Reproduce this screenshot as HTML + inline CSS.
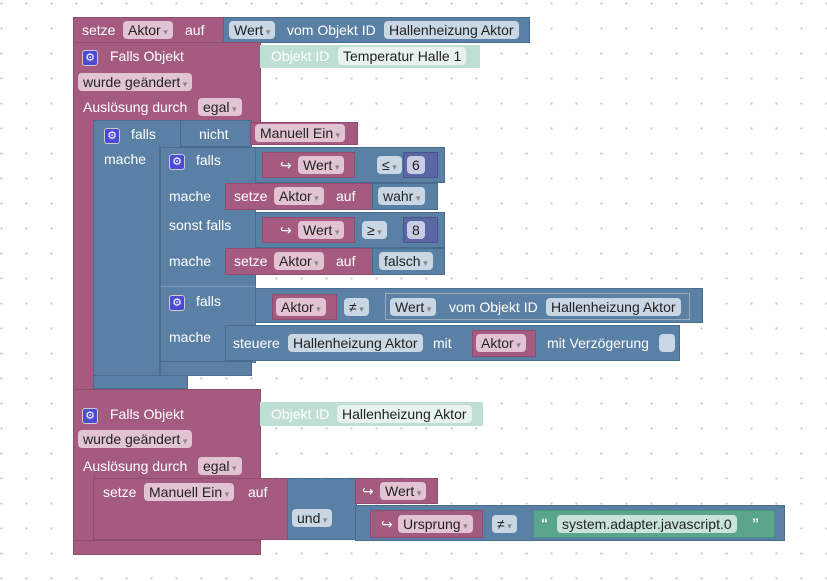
<!DOCTYPE html>
<html><head><meta charset="utf-8"><style>
body{margin:0;width:827px;height:581px;overflow:hidden;background:#fff;
background-image:radial-gradient(circle,#c8c8c8 1px,transparent 1.3px);background-size:25px 25px;background-position:-11px -9px;
font-family:"Liberation Sans",sans-serif;font-size:14px;color:#fff}
div{position:absolute;box-sizing:border-box}
.p{background:#a55b80;border:1px solid #8e4d6e}
.b{background:#5b80a5;border:1px solid #4a6d8f}
.t{background:#bfdfd3}
.g{background:#5ba58c;border:1px solid #4a8f77}
.n{background:#5b67a5;border:1px solid #4a558f}
.l{position:absolute;white-space:nowrap;line-height:18px}
.f{position:absolute;white-space:nowrap;line-height:18px;height:18px;padding:0 5px;border-radius:4px;color:#222}
.fp{background:#e2c3d3}
.fb{background:#c9d6e3}
.ft{background:#e8f3ee}
.fg{background:#c9e3d8}
.dd::after{content:" ▾";font-size:9px;color:#888}
.gear{position:absolute;width:16px;height:16px;background:#4a4ad6;border-radius:3px;border:1px solid #ccc;color:#fff;font-size:11px;line-height:14px;text-align:center}
</style></head><body>

<div class="p" style="left:73px;top:17px;width:152px;height:26px"></div>
<span class="l" style="left:82px;top:21px">setze</span>
<span class="f fp dd" style="left:123px;top:21px">Aktor</span>
<span class="l" style="left:185px;top:21px">auf</span>
<div class="b" style="left:223px;top:17px;width:307px;height:26px"></div>
<span class="f fb dd" style="left:229px;top:21px">Wert</span>
<span class="l" style="left:287px;top:21px">vom Objekt ID</span>
<span class="f fb" style="left:384px;top:21px">Hallenheizung Aktor</span>

<div class="p" style="left:73px;top:42px;width:188px;height:80px;border-bottom:none"></div>
<div class="p" style="left:73px;top:120px;width:22px;height:272px;border-top:none;border-bottom:none"></div>
<div class="p" style="left:73px;top:389px;width:188px;height:14px"></div>
<div class="gear" style="left:82px;top:50px">⚙</div>
<span class="l" style="left:110px;top:47px">Falls Objekt</span>
<span class="f fp dd" style="left:78px;top:73px">wurde geändert</span>
<span class="l" style="left:83px;top:98px">Auslösung durch</span>
<span class="f fp dd" style="left:198px;top:98px">egal</span>
<div class="t" style="left:260px;top:45px;width:220px;height:23px"></div>
<span class="l" style="left:271px;top:47px;color:#fff">Objekt ID</span>
<span class="f ft" style="left:338px;top:47px">Temperatur Halle 1</span>

<div class="b" style="left:93px;top:120px;width:90px;height:27px;border-bottom:none"></div>
<div class="b" style="left:180px;top:120px;width:72px;height:27px"></div>
<div class="p" style="left:250px;top:122px;width:108px;height:23px"></div>
<div class="b" style="left:93px;top:145px;width:67px;height:232px;border-top:none;border-bottom:none"></div>
<div class="b" style="left:93px;top:375px;width:95px;height:14px"></div>
<div class="gear" style="left:104px;top:128px">⚙</div>
<span class="l" style="left:131px;top:125px">falls</span>
<span class="l" style="left:199px;top:125px">nicht</span>
<span class="f fp dd" style="left:255px;top:124px">Manuell Ein</span>
<span class="l" style="left:104px;top:150px">mache</span>

<div class="b" style="left:160px;top:147px;width:96px;height:216px;border-bottom:none"></div>
<div class="b" style="left:160px;top:361px;width:92px;height:15px"></div>
<div class="gear" style="left:169px;top:154px">⚙</div>
<span class="l" style="left:196px;top:151px">falls</span>
<div class="b" style="left:255px;top:147px;width:190px;height:36px"></div>
<div class="p" style="left:262px;top:152px;width:93px;height:26px"></div>
<span class="l" style="left:280px;top:156px">↪</span>
<span class="f fp dd" style="left:298px;top:156px">Wert</span>
<span class="f fb dd" style="left:377px;top:156px">≤</span>
<div class="n" style="left:403px;top:152px;width:35px;height:26px"></div>
<span class="f" style="left:407px;top:156px;background:#c9cde3">6</span>
<span class="l" style="left:169px;top:187px">mache</span>
<div class="p" style="left:225px;top:183px;width:148px;height:27px"></div>
<span class="l" style="left:234px;top:187px">setze</span>
<span class="f fp dd" style="left:274px;top:187px">Aktor</span>
<span class="l" style="left:336px;top:187px">auf</span>
<div class="b" style="left:372px;top:183px;width:66px;height:27px"></div>
<span class="f fb dd" style="left:378px;top:187px">wahr</span>
<span class="l" style="left:169px;top:216px">sonst falls</span>
<div class="b" style="left:255px;top:212px;width:190px;height:36px"></div>
<div class="p" style="left:262px;top:217px;width:93px;height:26px"></div>
<span class="l" style="left:280px;top:221px">↪</span>
<span class="f fp dd" style="left:298px;top:221px">Wert</span>
<span class="f fb dd" style="left:362px;top:221px">≥</span>
<div class="n" style="left:403px;top:217px;width:35px;height:26px"></div>
<span class="f" style="left:407px;top:221px;background:#c9cde3">8</span>
<span class="l" style="left:169px;top:252px">mache</span>
<div class="p" style="left:225px;top:248px;width:148px;height:27px"></div>
<span class="l" style="left:234px;top:252px">setze</span>
<span class="f fp dd" style="left:274px;top:252px">Aktor</span>
<span class="l" style="left:336px;top:252px">auf</span>
<div class="b" style="left:372px;top:248px;width:73px;height:27px"></div>
<span class="f fb dd" style="left:379px;top:252px">falsch</span>

<div class="b" style="left:160px;top:286px;width:96px;height:6px;border-top:1px solid #7a9bbd;border-bottom:none"></div>
<div class="gear" style="left:169px;top:295px">⚙</div>
<span class="l" style="left:196px;top:292px">falls</span>
<div class="b" style="left:255px;top:288px;width:448px;height:35px"></div>
<div class="p" style="left:272px;top:294px;width:65px;height:26px"></div>
<span class="f fp dd" style="left:276px;top:298px">Aktor</span>
<span class="f fb dd" style="left:344px;top:298px">≠</span>
<div class="b" style="left:385px;top:293px;width:305px;height:27px;border:1px solid #9ab"></div>
<span class="f fb dd" style="left:390px;top:298px">Wert</span>
<span class="l" style="left:449px;top:298px">vom Objekt ID</span>
<span class="f fb" style="left:546px;top:298px">Hallenheizung Aktor</span>
<span class="l" style="left:169px;top:328px">mache</span>
<div class="b" style="left:225px;top:325px;width:455px;height:36px"></div>
<span class="l" style="left:233px;top:334px">steuere</span>
<span class="f fb" style="left:288px;top:334px">Hallenheizung Aktor</span>
<span class="l" style="left:433px;top:334px">mit</span>
<div class="p" style="left:472px;top:330px;width:64px;height:27px"></div>
<span class="f fp dd" style="left:476px;top:334px">Aktor</span>
<span class="l" style="left:547px;top:334px">mit Verzögerung</span>
<div style="left:659px;top:334px;width:16px;height:18px;background:#c9d6e3;border-radius:4px"></div>

<div class="p" style="left:73px;top:402px;width:188px;height:76px;border-bottom:none;border-top:none"></div>
<div class="p" style="left:73px;top:476px;width:22px;height:66px;border-top:none;border-bottom:none"></div>
<div class="p" style="left:73px;top:540px;width:188px;height:15px"></div>
<div class="gear" style="left:82px;top:408px">⚙</div>
<span class="l" style="left:110px;top:405px">Falls Objekt</span>
<span class="f fp dd" style="left:78px;top:430px">wurde geändert</span>
<span class="l" style="left:83px;top:457px">Auslösung durch</span>
<span class="f fp dd" style="left:198px;top:457px">egal</span>
<div class="t" style="left:260px;top:402px;width:223px;height:24px"></div>
<span class="l" style="left:271px;top:405px">Objekt ID</span>
<span class="f ft" style="left:337px;top:405px">Hallenheizung Aktor</span>

<div class="p" style="left:93px;top:478px;width:195px;height:62px"></div>
<span class="l" style="left:103px;top:483px">setze</span>
<span class="f fp dd" style="left:144px;top:483px">Manuell Ein</span>
<span class="l" style="left:248px;top:483px">auf</span>
<div class="b" style="left:287px;top:478px;width:70px;height:62px"></div>
<span class="f fb dd" style="left:292px;top:509px">und</span>
<div class="p" style="left:355px;top:478px;width:83px;height:26px"></div>
<span class="l" style="left:362px;top:482px">↪</span>
<span class="f fp dd" style="left:380px;top:482px">Wert</span>
<div class="b" style="left:355px;top:505px;width:430px;height:36px"></div>
<div class="p" style="left:370px;top:510px;width:113px;height:28px"></div>
<span class="l" style="left:381px;top:515px">↪</span>
<span class="f fp dd" style="left:398px;top:515px">Ursprung</span>
<span class="f fb dd" style="left:492px;top:515px">≠</span>
<div class="g" style="left:533px;top:510px;width:242px;height:28px"></div>
<span class="l" style="left:541px;top:514px;font-weight:bold">“</span>
<span class="f fg" style="left:557px;top:515px">system.adapter.javascript.0</span>
<span class="l" style="left:752px;top:514px;font-weight:bold">”</span>
</body></html>
